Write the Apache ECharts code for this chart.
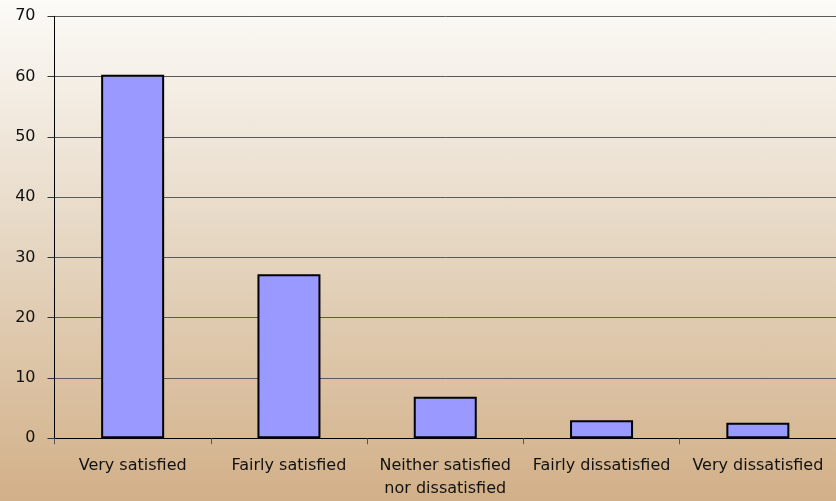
<!DOCTYPE html>
<html>
<head>
<meta charset="utf-8">
<script src="https://cdn.jsdelivr.net/npm/echarts@6/dist/echarts.min.js"></script>
<style>
  html, body { margin: 0; padding: 0; }
  #chart {
    width: 836px; height: 501px;
    background: linear-gradient(to bottom, #fcfbf8 0%, #e7d9c6 45%, #d2b088 100%);
  }
</style>
</head>
<body>
<div id="chart"></div>
<script>
// Satisfaction survey responses (percent)
const categories = ['Very satisfied', 'Fairly satisfied', 'Neither satisfied\nnor dissatisfied', 'Fairly dissatisfied', 'Very dissatisfied'];
const values = [60.3, 27.2, 6.9, 3.0, 2.6];
const yTicks = [0, 10, 20, 30, 40, 50, 60, 70];

const chart = echarts.init(document.getElementById('chart'));
const font = '"DejaVu Sans", sans-serif';

chart.setOption({
  animation: false,
  backgroundColor: 'transparent',
  grid: { left: 54.5, right: 0, top: 16.3, bottom: 62.7, containLabel: false },
  xAxis: {
    type: 'category',
    data: categories,
    axisLine: { show: true, lineStyle: { color: '#000', width: 1 } },
    axisTick: { show: true, alignWithLabel: false, length: 6, lineStyle: { color: '#555' } },
    axisLabel: {
      interval: 0, margin: 16, color: '#111',
      fontFamily: font, fontSize: 16, lineHeight: 23
    }
  },
  yAxis: {
    type: 'value',
    min: yTicks[0], max: yTicks[yTicks.length - 1], interval: 10,
    axisLine: { show: true, lineStyle: { color: '#000', width: 1 } },
    axisTick: { show: true, length: 7, lineStyle: { color: '#333' } },
    splitLine: { show: true, lineStyle: { color: '#5a5a5a', width: 1 } },
    axisLabel: { margin: 19, color: '#111', fontFamily: font, fontSize: 16, padding: [5, 0, 0, 0] }
  },
  series: [{
    type: 'bar',
    data: values,
    barWidth: 63,
    itemStyle: { color: '#9999ff', borderColor: '#000', borderWidth: 2 }
  }]
});
</script>
</body>
</html>
